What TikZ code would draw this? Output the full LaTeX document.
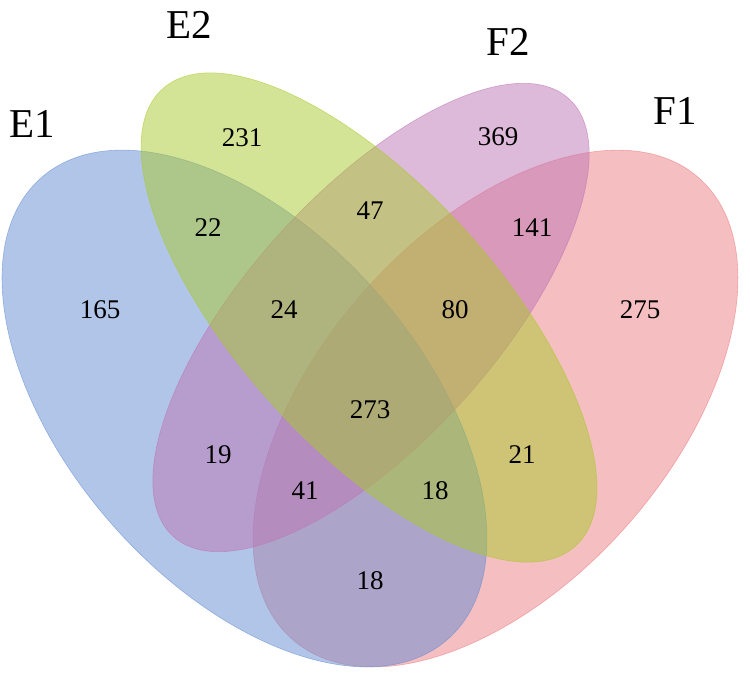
\documentclass[tikz,border=0pt]{standalone}
\usepackage{fontspec}
\setmainfont{Liberation Serif}
\definecolor{eoneblue}{RGB}{100,140,210}
\definecolor{etwogreen}{RGB}{169,201,45}
\definecolor{ftwopink}{RGB}{189,117,181}
\definecolor{fonered}{RGB}{235,125,129}
\begin{document}
\begin{tikzpicture}[x=1pt, y=1pt,
  set/.style={fill opacity=0.5, draw opacity=0.6, line width=0.6pt},
  count/.style={font=\fontsize{27}{27}\selectfont, inner sep=0pt},
  setname/.style={font=\fontsize{41}{41}\selectfont, inner sep=0pt}]
  \useasboundingbox (0,0) rectangle (750,678);
  % ellipse centres
  \coordinate (cE1) at (244.5,269.5);
  \coordinate (cE2) at (369,360.5);
  \coordinate (cF2) at (371,360.5);
  \coordinate (cF1) at (495.5,269.5);
  % the four sets, F1 at the bottom, E2 on top
  \filldraw[set, fill=fonered, draw=fonered, rotate around={48.6:(cF1)}] (cF1) ellipse [x radius=307.5, y radius=176];
  \filldraw[set, fill=eoneblue, draw=eoneblue, rotate around={-48.6:(cE1)}] (cE1) ellipse [x radius=307.5, y radius=176];
  \filldraw[set, fill=ftwopink, draw=ftwopink, rotate around={47.9:(cF2)}] (cF2) ellipse [x radius=295, y radius=124];
  \filldraw[set, fill=etwogreen, draw=etwogreen, rotate around={-47.9:(cE2)}] (cE2) ellipse [x radius=308, y radius=130];
  % set names
  \node[setname] (nE1) at (32,554) {E1};
  \node[setname] (nE2) at (189,653) {E2};
  \node[setname] (nF2) at (508,636) {F2};
  \node[setname] (nF1) at (675,567) {F1};
  % counts
  \node[count] (n165) at (100,368) {165};
  \node[count] (n231) at (242,540) {231};
  \node[count] (n22) at (208,450) {22};
  \node[count] (n24) at (284,368) {24};
  \node[count] (n47) at (370,467) {47};
  \node[count] (n369) at (498,541) {369};
  \node[count] (n141) at (532,450) {141};
  \node[count] (n80) at (455,368) {80};
  \node[count] (n275) at (640,368) {275};
  \node[count] (n273) at (370,268) {273};
  \node[count] (n19) at (218,223) {19};
  \node[count] (n41) at (305,187) {41};
  \node[count] (n18r) at (435,187) {18};
  \node[count] (n21) at (522,223) {21};
  \node[count] (n18b) at (370,97) {18};
\end{tikzpicture}
\end{document}
